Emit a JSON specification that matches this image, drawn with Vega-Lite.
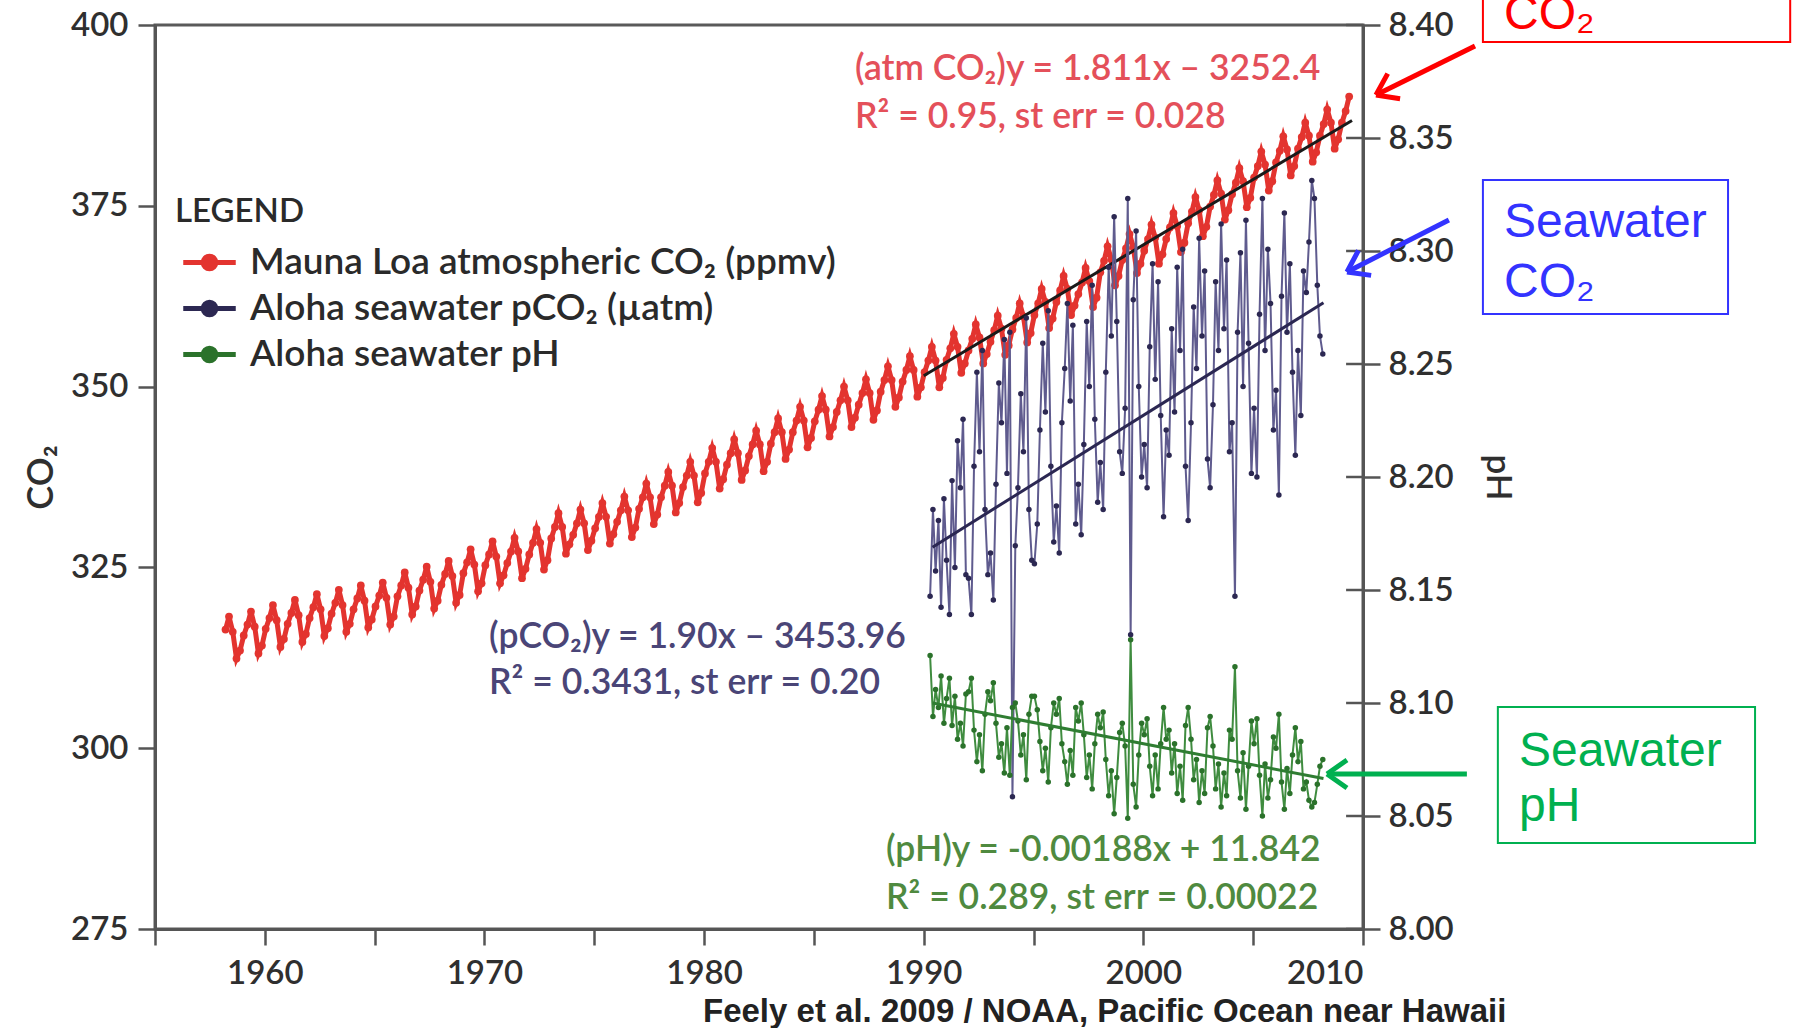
{
"$schema":"https://vega.github.io/schema/vega-lite/v6.json",
"width":1208,"height":904,"autosize":"none",
"padding":{"left":155,"top":25,"right":430,"bottom":99},
"background":"white",
"config":{"view":{"stroke":"#5a5a5a","strokeWidth":3},"font":"Lato"},
"datasets":{
"mlo":[
{"t":1958.21,"c":316.4},{"t":1958.37,"c":318.2},{"t":1958.54,"c":316.1},{"t":1958.71,"c":312.4},{"t":1958.87,"c":313.5},
{"t":1959.04,"c":315.6},{"t":1959.21,"c":317.1},{"t":1959.37,"c":318.9},{"t":1959.54,"c":316.8},{"t":1959.71,"c":313.1},{"t":1959.87,"c":314.2},
{"t":1960.04,"c":316.5},{"t":1960.21,"c":318.0},{"t":1960.37,"c":319.8},{"t":1960.54,"c":317.7},{"t":1960.71,"c":314.0},{"t":1960.87,"c":315.1},
{"t":1961.04,"c":317.2},{"t":1961.21,"c":318.7},{"t":1961.37,"c":320.5},{"t":1961.54,"c":318.4},{"t":1961.71,"c":314.7},{"t":1961.87,"c":315.8},
{"t":1962.04,"c":318.0},{"t":1962.21,"c":319.5},{"t":1962.37,"c":321.3},{"t":1962.54,"c":319.2},{"t":1962.71,"c":315.5},{"t":1962.87,"c":316.6},
{"t":1963.04,"c":318.6},{"t":1963.21,"c":320.1},{"t":1963.37,"c":321.9},{"t":1963.54,"c":319.8},{"t":1963.71,"c":316.1},{"t":1963.87,"c":317.2},
{"t":1964.04,"c":319.2},{"t":1964.21,"c":320.7},{"t":1964.37,"c":322.5},{"t":1964.54,"c":320.4},{"t":1964.71,"c":316.7},{"t":1964.87,"c":317.8},
{"t":1965.04,"c":319.6},{"t":1965.21,"c":321.1},{"t":1965.37,"c":322.9},{"t":1965.54,"c":320.8},{"t":1965.71,"c":317.1},{"t":1965.87,"c":318.2},
{"t":1966.04,"c":321.0},{"t":1966.21,"c":322.5},{"t":1966.37,"c":324.3},{"t":1966.54,"c":322.2},{"t":1966.71,"c":318.5},{"t":1966.87,"c":319.6},
{"t":1967.04,"c":321.8},{"t":1967.21,"c":323.3},{"t":1967.37,"c":325.1},{"t":1967.54,"c":323.0},{"t":1967.71,"c":319.3},{"t":1967.87,"c":320.4},
{"t":1968.04,"c":322.6},{"t":1968.21,"c":324.1},{"t":1968.37,"c":325.9},{"t":1968.54,"c":323.8},{"t":1968.71,"c":320.1},{"t":1968.87,"c":321.2},
{"t":1969.04,"c":324.2},{"t":1969.21,"c":325.7},{"t":1969.37,"c":327.5},{"t":1969.54,"c":325.4},{"t":1969.71,"c":321.7},{"t":1969.87,"c":322.8},
{"t":1970.04,"c":325.3},{"t":1970.21,"c":326.8},{"t":1970.37,"c":328.6},{"t":1970.54,"c":326.5},{"t":1970.71,"c":322.8},{"t":1970.87,"c":323.9},
{"t":1971.04,"c":325.6},{"t":1971.21,"c":327.2},{"t":1971.37,"c":329.1},{"t":1971.54,"c":327.2},{"t":1971.71,"c":323.5},{"t":1971.87,"c":324.8},
{"t":1972.04,"c":326.8},{"t":1972.21,"c":328.4},{"t":1972.37,"c":330.3},{"t":1972.54,"c":328.4},{"t":1972.71,"c":324.7},{"t":1972.87,"c":326.0},
{"t":1973.04,"c":329.0},{"t":1973.21,"c":330.6},{"t":1973.37,"c":332.5},{"t":1973.54,"c":330.6},{"t":1973.71,"c":326.9},{"t":1973.87,"c":328.2},
{"t":1974.04,"c":329.5},{"t":1974.21,"c":331.1},{"t":1974.37,"c":333.0},{"t":1974.54,"c":331.1},{"t":1974.71,"c":327.4},{"t":1974.87,"c":328.7},
{"t":1975.04,"c":330.4},{"t":1975.21,"c":332.0},{"t":1975.37,"c":333.9},{"t":1975.54,"c":332.0},{"t":1975.71,"c":328.3},{"t":1975.87,"c":329.6},
{"t":1976.04,"c":331.3},{"t":1976.21,"c":332.9},{"t":1976.37,"c":334.8},{"t":1976.54,"c":332.9},{"t":1976.71,"c":329.2},{"t":1976.87,"c":330.5},
{"t":1977.04,"c":333.1},{"t":1977.21,"c":334.7},{"t":1977.37,"c":336.6},{"t":1977.54,"c":334.7},{"t":1977.71,"c":331.0},{"t":1977.87,"c":332.3},
{"t":1978.04,"c":334.7},{"t":1978.21,"c":336.3},{"t":1978.37,"c":338.2},{"t":1978.54,"c":336.3},{"t":1978.71,"c":332.6},{"t":1978.87,"c":333.9},
{"t":1979.04,"c":336.1},{"t":1979.21,"c":337.7},{"t":1979.37,"c":339.6},{"t":1979.54,"c":337.7},{"t":1979.71,"c":334.0},{"t":1979.87,"c":335.3},
{"t":1980.04,"c":338.0},{"t":1980.21,"c":339.6},{"t":1980.37,"c":341.5},{"t":1980.54,"c":339.6},{"t":1980.71,"c":335.9},{"t":1980.87,"c":337.2},
{"t":1981.04,"c":339.2},{"t":1981.21,"c":340.8},{"t":1981.37,"c":342.7},{"t":1981.54,"c":340.8},{"t":1981.71,"c":337.1},{"t":1981.87,"c":338.4},
{"t":1982.04,"c":340.4},{"t":1982.21,"c":342.0},{"t":1982.37,"c":343.9},{"t":1982.54,"c":342.0},{"t":1982.71,"c":338.3},{"t":1982.87,"c":339.6},
{"t":1983.04,"c":342.1},{"t":1983.21,"c":343.7},{"t":1983.37,"c":345.6},{"t":1983.54,"c":343.7},{"t":1983.71,"c":340.0},{"t":1983.87,"c":341.3},
{"t":1984.04,"c":343.7},{"t":1984.21,"c":345.3},{"t":1984.37,"c":347.2},{"t":1984.54,"c":345.3},{"t":1984.71,"c":341.6},{"t":1984.87,"c":342.9},
{"t":1985.04,"c":345.2},{"t":1985.21,"c":346.8},{"t":1985.37,"c":348.7},{"t":1985.54,"c":346.8},{"t":1985.71,"c":343.1},{"t":1985.87,"c":344.4},
{"t":1986.04,"c":346.5},{"t":1986.21,"c":348.1},{"t":1986.37,"c":350.0},{"t":1986.54,"c":348.1},{"t":1986.71,"c":344.4},{"t":1986.87,"c":345.7},
{"t":1987.04,"c":347.5},{"t":1987.21,"c":349.1},{"t":1987.37,"c":351.0},{"t":1987.54,"c":349.1},{"t":1987.71,"c":345.4},{"t":1987.87,"c":346.7},
{"t":1988.04,"c":349.3},{"t":1988.21,"c":350.9},{"t":1988.37,"c":352.8},{"t":1988.54,"c":350.9},{"t":1988.71,"c":347.2},{"t":1988.87,"c":348.5},
{"t":1989.04,"c":350.7},{"t":1989.21,"c":352.3},{"t":1989.37,"c":354.2},{"t":1989.54,"c":352.3},{"t":1989.71,"c":348.6},{"t":1989.87,"c":349.9},
{"t":1990.04,"c":352.0},{"t":1990.21,"c":353.6},{"t":1990.37,"c":355.5},{"t":1990.54,"c":353.6},{"t":1990.71,"c":349.9},{"t":1990.87,"c":351.2},
{"t":1991.04,"c":353.7},{"t":1991.21,"c":355.3},{"t":1991.37,"c":357.3},{"t":1991.54,"c":355.5},{"t":1991.71,"c":351.9},{"t":1991.87,"c":353.2},
{"t":1992.04,"c":355.0},{"t":1992.21,"c":356.6},{"t":1992.37,"c":358.6},{"t":1992.54,"c":356.8},{"t":1992.71,"c":353.2},{"t":1992.87,"c":354.5},
{"t":1993.04,"c":356.2},{"t":1993.21,"c":357.8},{"t":1993.37,"c":359.8},{"t":1993.54,"c":358.0},{"t":1993.71,"c":354.4},{"t":1993.87,"c":355.7},
{"t":1994.04,"c":357.9},{"t":1994.21,"c":359.5},{"t":1994.37,"c":361.5},{"t":1994.54,"c":359.7},{"t":1994.71,"c":356.1},{"t":1994.87,"c":357.4},
{"t":1995.04,"c":359.9},{"t":1995.21,"c":361.5},{"t":1995.37,"c":363.5},{"t":1995.54,"c":361.7},{"t":1995.71,"c":358.1},{"t":1995.87,"c":359.4},
{"t":1996.04,"c":361.7},{"t":1996.21,"c":363.3},{"t":1996.37,"c":365.3},{"t":1996.54,"c":363.5},{"t":1996.71,"c":359.9},{"t":1996.87,"c":361.2},
{"t":1997.04,"c":362.8},{"t":1997.21,"c":364.4},{"t":1997.37,"c":366.4},{"t":1997.54,"c":364.6},{"t":1997.71,"c":361.0},{"t":1997.87,"c":362.3},
{"t":1998.04,"c":365.8},{"t":1998.21,"c":367.4},{"t":1998.37,"c":369.4},{"t":1998.54,"c":367.6},{"t":1998.71,"c":364.0},{"t":1998.87,"c":365.3},
{"t":1999.04,"c":367.5},{"t":1999.21,"c":369.1},{"t":1999.37,"c":371.1},{"t":1999.54,"c":369.3},{"t":1999.71,"c":365.7},{"t":1999.87,"c":367.0},
{"t":2000.04,"c":368.8},{"t":2000.21,"c":370.4},{"t":2000.37,"c":372.4},{"t":2000.54,"c":370.6},{"t":2000.71,"c":367.0},{"t":2000.87,"c":368.3},
{"t":2001.04,"c":370.4},{"t":2001.21,"c":372.0},{"t":2001.37,"c":374.0},{"t":2001.54,"c":372.2},{"t":2001.71,"c":368.6},{"t":2001.87,"c":369.9},
{"t":2002.04,"c":372.6},{"t":2002.21,"c":374.2},{"t":2002.37,"c":376.2},{"t":2002.54,"c":374.4},{"t":2002.71,"c":370.8},{"t":2002.87,"c":372.1},
{"t":2003.04,"c":374.9},{"t":2003.21,"c":376.5},{"t":2003.37,"c":378.5},{"t":2003.54,"c":376.7},{"t":2003.71,"c":373.1},{"t":2003.87,"c":374.4},
{"t":2004.04,"c":376.6},{"t":2004.21,"c":378.2},{"t":2004.37,"c":380.2},{"t":2004.54,"c":378.4},{"t":2004.71,"c":374.8},{"t":2004.87,"c":376.1},
{"t":2005.04,"c":378.9},{"t":2005.21,"c":380.5},{"t":2005.37,"c":382.5},{"t":2005.54,"c":380.7},{"t":2005.71,"c":377.1},{"t":2005.87,"c":378.4},
{"t":2006.04,"c":381.0},{"t":2006.21,"c":382.6},{"t":2006.37,"c":384.6},{"t":2006.54,"c":382.8},{"t":2006.71,"c":379.2},{"t":2006.87,"c":380.5},
{"t":2007.04,"c":382.9},{"t":2007.21,"c":384.5},{"t":2007.37,"c":386.5},{"t":2007.54,"c":384.7},{"t":2007.71,"c":381.1},{"t":2007.87,"c":382.4},
{"t":2008.04,"c":384.7},{"t":2008.21,"c":386.3},{"t":2008.37,"c":388.3},{"t":2008.54,"c":386.5},{"t":2008.71,"c":382.9},{"t":2008.87,"c":384.2},
{"t":2009.04,"c":386.5},{"t":2009.21,"c":388.1},{"t":2009.37,"c":390.1}
],
"hot":[
{"t":1990.29,"p":321.0,"h":8.121},{"t":1990.42,"p":333.0,"h":8.094},{"t":1990.54,"p":324.5,"h":8.106},{"t":1990.67,"p":331.5,"h":8.098},{"t":1990.79,"p":319.5,"h":8.112},{"t":1990.92,"p":334.5,"h":8.091},
{"t":1991.04,"p":326.0,"h":8.102},{"t":1991.17,"p":318.5,"h":8.111},{"t":1991.29,"p":337.0,"h":8.090},{"t":1991.42,"p":325.0,"h":8.103},{"t":1991.54,"p":342.5,"h":8.084},{"t":1991.67,"p":336.0,"h":8.091},{"t":1991.79,"p":345.5,"h":8.081},{"t":1991.92,"p":324.0,"h":8.104},
{"t":1992.04,"p":323.5,"h":8.105},{"t":1992.17,"p":318.5,"h":8.111},{"t":1992.29,"p":339.0,"h":8.088},{"t":1992.42,"p":352.0,"h":8.074},{"t":1992.54,"p":341.0,"h":8.086},{"t":1992.67,"p":355.0,"h":8.070},{"t":1992.79,"p":333.0,"h":8.095},{"t":1992.92,"p":324.0,"h":8.105},
{"t":1993.04,"p":327.0,"h":8.101},{"t":1993.17,"p":320.5,"h":8.109},{"t":1993.29,"p":336.5,"h":8.091},{"t":1993.42,"p":350.5,"h":8.076},{"t":1993.54,"p":345.0,"h":8.082},{"t":1993.67,"p":356.5,"h":8.069},{"t":1993.79,"p":338.0,"h":8.089},{"t":1993.92,"p":357.5,"h":8.068},
{"t":1994.04,"p":293.3,"h":8.098},{"t":1994.17,"p":328.0,"h":8.100},{"t":1994.29,"p":336.0,"h":8.092},{"t":1994.42,"p":349.0,"h":8.077},{"t":1994.54,"p":341.0,"h":8.086},{"t":1994.67,"p":359.5,"h":8.066},{"t":1994.79,"p":333.0,"h":8.095},{"t":1994.92,"p":326.0,"h":8.103},
{"t":1995.04,"p":325.5,"h":8.103},{"t":1995.17,"p":331.0,"h":8.097},{"t":1995.29,"p":344.0,"h":8.083},{"t":1995.42,"p":356.0,"h":8.070},{"t":1995.54,"p":346.5,"h":8.080},{"t":1995.67,"p":360.5,"h":8.065},{"t":1995.79,"p":339.0,"h":8.089},{"t":1995.92,"p":328.5,"h":8.100},
{"t":1996.04,"p":333.5,"h":8.095},{"t":1996.17,"p":327.0,"h":8.102},{"t":1996.29,"p":345.0,"h":8.082},{"t":1996.42,"p":352.5,"h":8.074},{"t":1996.54,"p":361.5,"h":8.064},{"t":1996.67,"p":348.0,"h":8.079},{"t":1996.79,"p":358.5,"h":8.068},{"t":1996.92,"p":331.0,"h":8.098},
{"t":1997.04,"p":336.5,"h":8.092},{"t":1997.17,"p":329.5,"h":8.100},{"t":1997.29,"p":342.0,"h":8.086},{"t":1997.42,"p":359.0,"h":8.067},{"t":1997.54,"p":350.0,"h":8.077},{"t":1997.67,"p":364.0,"h":8.062},{"t":1997.79,"p":345.5,"h":8.082},{"t":1997.92,"p":334.0,"h":8.095},
{"t":1998.04,"p":339.5,"h":8.089},{"t":1998.17,"p":333.0,"h":8.096},{"t":1998.29,"p":352.0,"h":8.075},{"t":1998.42,"p":366.5,"h":8.059},{"t":1998.54,"p":357.0,"h":8.070},{"t":1998.67,"p":373.5,"h":8.051},{"t":1998.79,"p":359.0,"h":8.067},{"t":1998.92,"p":341.0,"h":8.087},
{"t":1999.04,"p":338.0,"h":8.091},{"t":1999.17,"p":347.0,"h":8.081},{"t":1999.29,"p":376.0,"h":8.049},{"t":1999.42,"p":315.7,"h":8.128},{"t":1999.54,"p":362.0,"h":8.064},{"t":1999.67,"p":371.5,"h":8.054},{"t":1999.79,"p":350.0,"h":8.077},{"t":1999.92,"p":337.5,"h":8.091},
{"t":2000.04,"p":342.0,"h":8.086},{"t":2000.17,"p":336.0,"h":8.093},{"t":2000.29,"p":355.5,"h":8.072},{"t":2000.42,"p":367.0,"h":8.059},{"t":2000.54,"p":351.0,"h":8.077},{"t":2000.67,"p":364.5,"h":8.062},{"t":2000.79,"p":346.0,"h":8.082},{"t":2000.92,"p":332.0,"h":8.098},
{"t":2001.04,"p":344.0,"h":8.084},{"t":2001.17,"p":340.5,"h":8.088},{"t":2001.29,"p":358.0,"h":8.069},{"t":2001.42,"p":346.5,"h":8.082},{"t":2001.54,"p":366.5,"h":8.060},{"t":2001.67,"p":355.0,"h":8.072},{"t":2001.79,"p":369.0,"h":8.057},{"t":2001.92,"p":339.0,"h":8.090},
{"t":2002.04,"p":331.5,"h":8.098},{"t":2002.17,"p":345.0,"h":8.084},{"t":2002.29,"p":361.0,"h":8.066},{"t":2002.42,"p":352.5,"h":8.075},{"t":2002.54,"p":370.5,"h":8.056},{"t":2002.67,"p":357.0,"h":8.070},{"t":2002.79,"p":366.0,"h":8.060},{"t":2002.92,"p":340.0,"h":8.089},
{"t":2003.04,"p":336.0,"h":8.094},{"t":2003.17,"p":347.5,"h":8.081},{"t":2003.29,"p":364.5,"h":8.062},{"t":2003.42,"p":355.0,"h":8.073},{"t":2003.54,"p":372.5,"h":8.054},{"t":2003.67,"p":358.0,"h":8.069},{"t":2003.79,"p":367.5,"h":8.059},{"t":2003.92,"p":341.0,"h":8.088},
{"t":2004.04,"p":345.0,"h":8.084},{"t":2004.17,"p":321.0,"h":8.116},{"t":2004.29,"p":357.5,"h":8.070},{"t":2004.42,"p":368.5,"h":8.058},{"t":2004.54,"p":350.0,"h":8.078},{"t":2004.67,"p":373.0,"h":8.053},{"t":2004.79,"p":356.0,"h":8.072},{"t":2004.92,"p":338.0,"h":8.092},
{"t":2005.04,"p":347.0,"h":8.082},{"t":2005.17,"p":337.5,"h":8.093},{"t":2005.29,"p":360.0,"h":8.068},{"t":2005.42,"p":376.0,"h":8.050},{"t":2005.54,"p":355.0,"h":8.073},{"t":2005.67,"p":369.0,"h":8.058},{"t":2005.79,"p":361.5,"h":8.066},{"t":2005.92,"p":344.0,"h":8.085},
{"t":2006.04,"p":349.5,"h":8.080},{"t":2006.17,"p":335.0,"h":8.095},{"t":2006.29,"p":362.5,"h":8.065},{"t":2006.42,"p":374.0,"h":8.053},{"t":2006.54,"p":357.5,"h":8.071},{"t":2006.67,"p":367.0,"h":8.060},{"t":2006.79,"p":352.0,"h":8.077},{"t":2006.92,"p":340.5,"h":8.089},
{"t":2007.04,"p":355.0,"h":8.074},{"t":2007.17,"p":346.0,"h":8.083},{"t":2007.29,"p":366.0,"h":8.062},{"t":2007.42,"p":363.0,"h":8.065},{"t":2007.54,"p":370.0,"h":8.057},{"t":2007.67,"p":378.5,"h":8.054},{"t":2007.79,"p":376.0,"h":8.056},{"t":2007.92,"p":364.0,"h":8.064},
{"t":2008.04,"p":357.0,"h":8.072},{"t":2008.17,"p":354.5,"h":8.075}
],
"fa":[{"t":1990.0,"v":351.5},{"t":2009.5,"v":386.8}],
"fp":[{"t":1990.4,"v":327.8},{"t":2008.2,"v":361.6}],
"fh":[{"t":1990.4,"h":8.1},{"t":2008.2,"h":8.0666}],
"pht":[{"h":8.0},{"h":8.05},{"h":8.1},{"h":8.15},{"h":8.2},{"h":8.25},{"h":8.3},{"h":8.35},{"h":8.4}],
"series":[{"s":"Mauna Loa atmospheric CO₂ (ppmv)"},{"s":"Aloha seawater pCO₂ (µatm)"},{"s":"Aloha seawater pH"}],
"one":[{}]
},
"layer":[
{"data":{"name":"mlo"},
 "mark":{"type":"line","strokeWidth":5,"color":"#e3342f"},
 "encoding":{
  "x":{"field":"t","type":"quantitative","scale":{"domain":[1955,2010],"nice":false,"zero":false},
   "axis":{"title":null,"values":[1955,1960,1965,1970,1975,1980,1985,1990,1995,2000,2005,2010],"labelExpr":"datum.value % 10 == 0 ? '' + datum.value : ''","labelOverlap":false,"tickSize":16,"tickWidth":2.5,"tickColor":"#555555","domainColor":"#555555","domainWidth":3,"labelFont":"Lato","labelFontWeight":600,"labelFontSize":33,"labelColor":"#2f2f2f","labelPadding":12,"grid":false}},
  "y":{"field":"c","type":"quantitative","scale":{"domain":[275,400],"nice":false,"zero":false},
   "axis":{"orient":"left","title":"CO₂","values":[275,300,325,350,375,400],"labelOverlap":false,"tickSize":17,"tickWidth":2.5,"tickColor":"#555555","domainColor":"#555555","domainWidth":3,"labelFont":"Lato","labelFontWeight":600,"labelFontSize":33,"labelColor":"#2f2f2f","labelPadding":10,"titleFont":"Lato","titleFontSize":36,"titleFontWeight":600,"titleColor":"#2f2f2f","titlePadding":10,"grid":false}}
 }},
{"data":{"name":"mlo"},
 "mark":{"type":"point","filled":true,"size":60,"opacity":1,"color":"#e3342f"},
 "encoding":{"x":{"field":"t","type":"quantitative"},"y":{"field":"c","type":"quantitative","scale":{"domain":[275,400],"nice":false,"zero":false},"axis":null}}},
{"data":{"name":"series"},
 "mark":{"type":"line","strokeWidth":5},
 "encoding":{
  "x":{"datum":1955,"type":"quantitative"},
  "y":{"datum":275,"type":"quantitative","scale":{"domain":[275,400],"nice":false,"zero":false},"axis":null},
  "color":{"field":"s","type":"nominal",
   "scale":{"domain":["Mauna Loa atmospheric CO₂ (ppmv)","Aloha seawater pCO₂ (µatm)","Aloha seawater pH"],"range":["#e3342f","#2c2852","#2b722b"]},
   "legend":{"title":"LEGEND","orient":"none","legendX":20,"legendY":171,"symbolType":"M-1.25,0L1.25,0M-0.3,0A0.3,0.3,0,1,1,0.3,0A0.3,0.3,0,1,1,-0.3,0Z","symbolSize":1764,"symbolStrokeWidth":5,"symbolOffset":11,"labelOffset":17,"labelFont":"Lato","labelFontWeight":600,"labelFontSize":37,"labelColor":"#2a2a2a","labelLimit":1000,"titleFont":"Lato","titleFontSize":33,"titleFontWeight":600,"titleColor":"#2a2a2a","titlePadding":10,"rowPadding":4,"padding":0,
    "encode":{"symbols":{"update":{"fill":{"scale":"color","field":"value"},"stroke":{"scale":"color","field":"value"}}}}}}
 }},
{"data":{"name":"fa"},"mark":{"type":"line","color":"#1a1a1a","strokeWidth":3},
 "encoding":{"x":{"field":"t","type":"quantitative"},"y":{"field":"v","type":"quantitative","scale":{"domain":[275,400],"nice":false,"zero":false},"axis":null}}},
{"data":{"name":"hot"},
 "mark":{"type":"line","strokeWidth":2,"color":"#5f5b8e"},
 "encoding":{"x":{"field":"t","type":"quantitative"},"y":{"field":"p","type":"quantitative","scale":{"domain":[275,400],"nice":false,"zero":false},"axis":null}}},
{"data":{"name":"hot"},
 "mark":{"type":"point","filled":true,"size":30,"opacity":1,"color":"#2c2852"},
 "encoding":{"x":{"field":"t","type":"quantitative"},"y":{"field":"p","type":"quantitative","scale":{"domain":[275,400],"nice":false,"zero":false},"axis":null}}},
{"data":{"name":"fp"},"mark":{"type":"line","color":"#2b2752","strokeWidth":3},
 "encoding":{"x":{"field":"t","type":"quantitative"},"y":{"field":"v","type":"quantitative","scale":{"domain":[275,400],"nice":false,"zero":false},"axis":null}}},
{"data":{"name":"hot"},
 "mark":{"type":"line","strokeWidth":2,"color":"#3f8c3f"},
 "encoding":{"x":{"field":"t","type":"quantitative"},
  "y":{"field":"h","type":"quantitative","scale":{"domain":[8.0,8.4],"nice":false,"zero":false},
   "axis":{"orient":"right","title":"pH","values":[8.0,8.05,8.1,8.15,8.2,8.25,8.3,8.35,8.4],"format":".2f","labelOverlap":false,"tickSize":17,"tickWidth":2.5,"tickColor":"#555555","domainColor":"#555555","domainWidth":3,"labelFont":"Lato","labelFontWeight":600,"labelFontSize":33,"labelColor":"#2f2f2f","labelPadding":8,"titleFont":"Lato","titleFontSize":35,"titleFontWeight":600,"titleColor":"#2f2f2f","titlePadding":26,"grid":false}}}},
{"data":{"name":"hot"},
 "mark":{"type":"point","filled":true,"size":30,"opacity":1,"color":"#2b722b"},
 "encoding":{"x":{"field":"t","type":"quantitative"},"y":{"field":"h","type":"quantitative","scale":{"domain":[8.0,8.4],"nice":false,"zero":false},"axis":null}}},
{"data":{"name":"fh"},"mark":{"type":"line","color":"#2f7d32","strokeWidth":3},
 "encoding":{"x":{"field":"t","type":"quantitative"},"y":{"field":"h","type":"quantitative","scale":{"domain":[8.0,8.4],"nice":false,"zero":false},"axis":null}}},
{"data":{"name":"pht"},"mark":{"type":"rule","color":"#555555","strokeWidth":2.5},
 "encoding":{"x":{"datum":2009.23,"type":"quantitative"},"x2":{"datum":2010},"y":{"field":"h","type":"quantitative","scale":{"domain":[8.0,8.4],"nice":false,"zero":false},"axis":null}}},
{"data":{"name":"one"},"mark":{"type":"text","text":["(atm CO₂)y = 1.811x – 3252.4","R² = 0.95, st err = 0.028"],"align":"left","baseline":"alphabetic","font":"Lato","fontWeight":600,"fontSize":35.5,"lineHeight":48,"color":"#e4505a"},
 "encoding":{"x":{"datum":1986.87,"type":"quantitative"},"y":{"datum":392.4,"type":"quantitative","scale":{"domain":[275,400],"nice":false,"zero":false},"axis":null}}},
{"data":{"name":"one"},"mark":{"type":"text","text":["(pCO₂)y = 1.90x – 3453.96","R² = 0.3431, st err = 0.20"],"align":"left","baseline":"alphabetic","font":"Lato","fontWeight":600,"fontSize":35.5,"lineHeight":46,"color":"#4a4577"},
 "encoding":{"x":{"datum":1970.21,"type":"quantitative"},"y":{"datum":313.86,"type":"quantitative","scale":{"domain":[275,400],"nice":false,"zero":false},"axis":null}}},
{"data":{"name":"one"},"mark":{"type":"text","text":["(pH)y = -0.00188x + 11.842","R² = 0.289, st err = 0.00022"],"align":"left","baseline":"alphabetic","font":"Lato","fontWeight":600,"fontSize":35.5,"lineHeight":48,"color":"#4f8a3f"},
 "encoding":{"x":{"datum":1988.28,"type":"quantitative"},"y":{"datum":284.4,"type":"quantitative","scale":{"domain":[275,400],"nice":false,"zero":false},"axis":null}}},
{"data":{"name":"one"},"mark":{"type":"text","text":"Feely et al. 2009 / NOAA, Pacific Ocean near Hawaii","align":"left","baseline":"alphabetic","font":"Liberation Sans","fontWeight":"bold","fontSize":33,"color":"#222222"},
 "encoding":{"x":{"datum":1979.95,"type":"quantitative"},"y":{"datum":262.14,"type":"quantitative","scale":{"domain":[275,400],"nice":false,"zero":false},"axis":null}}},
{"data":{"name":"one"},"mark":{"type":"rect","fill":"transparent","stroke":"#ff0000","strokeWidth":2},
 "encoding":{"x":{"datum":2015.46,"type":"quantitative"},"x2":{"datum":2029.45},"y":{"datum":404.8,"type":"quantitative","scale":{"domain":[275,400],"nice":false,"zero":false},"axis":null},"y2":{"datum":397.65}}},
{"data":{"name":"one"},"mark":{"type":"text","text":"CO₂","align":"left","baseline":"alphabetic","font":"Liberation Sans","fontSize":48,"color":"#ff0000"},
 "encoding":{"x":{"datum":2016.42,"type":"quantitative"},"y":{"datum":399.45,"type":"quantitative","scale":{"domain":[275,400],"nice":false,"zero":false},"axis":null}}},
{"data":{"name":"one"},"mark":{"type":"rule","color":"#ff0000","strokeWidth":5},
 "encoding":{"x":{"datum":2015.1,"type":"quantitative"},"x2":{"datum":2010.59},"y":{"datum":397.1,"type":"quantitative","scale":{"domain":[275,400],"nice":false,"zero":false},"axis":null},"y2":{"datum":390.32}}},
{"data":{"name":"one"},"mark":{"type":"point","shape":"M0,0L-1,-0.7M0,0L-1,0.7","angle":153.7,"size":1600,"filled":false,"color":"#ff0000","strokeWidth":5,"opacity":1},
 "encoding":{"x":{"datum":2010.59,"type":"quantitative"},"y":{"datum":390.32,"type":"quantitative","scale":{"domain":[275,400],"nice":false,"zero":false},"axis":null}}},
{"data":{"name":"one"},"mark":{"type":"rect","fill":"transparent","stroke":"#3333ff","strokeWidth":2},
 "encoding":{"x":{"datum":2015.46,"type":"quantitative"},"x2":{"datum":2026.62},"y":{"datum":378.57,"type":"quantitative","scale":{"domain":[275,400],"nice":false,"zero":false},"axis":null},"y2":{"datum":360.04}}},
{"data":{"name":"one"},"mark":{"type":"text","text":["Seawater","CO₂"],"align":"left","baseline":"alphabetic","font":"Liberation Sans","fontSize":48,"lineHeight":60,"color":"#3333ff"},
 "encoding":{"x":{"datum":2016.42,"type":"quantitative"},"y":{"datum":370.69,"type":"quantitative","scale":{"domain":[275,400],"nice":false,"zero":false},"axis":null}}},
{"data":{"name":"one"},"mark":{"type":"rule","color":"#3333ff","strokeWidth":5},
 "encoding":{"x":{"datum":2013.91,"type":"quantitative"},"x2":{"datum":2009.27},"y":{"datum":373.04,"type":"quantitative","scale":{"domain":[275,400],"nice":false,"zero":false},"axis":null},"y2":{"datum":365.85}}},
{"data":{"name":"one"},"mark":{"type":"point","shape":"M0,0L-1,-0.7M0,0L-1,0.7","angle":153,"size":1600,"filled":false,"color":"#3333ff","strokeWidth":5,"opacity":1},
 "encoding":{"x":{"datum":2009.27,"type":"quantitative"},"y":{"datum":365.85,"type":"quantitative","scale":{"domain":[275,400],"nice":false,"zero":false},"axis":null}}},
{"data":{"name":"one"},"mark":{"type":"rect","fill":"transparent","stroke":"#00b050","strokeWidth":2},
 "encoding":{"x":{"datum":2016.14,"type":"quantitative"},"x2":{"datum":2027.85},"y":{"datum":305.7,"type":"quantitative","scale":{"domain":[275,400],"nice":false,"zero":false},"axis":null},"y2":{"datum":286.89}}},
{"data":{"name":"one"},"mark":{"type":"text","text":["Seawater","pH"],"align":"left","baseline":"alphabetic","font":"Liberation Sans","fontSize":48,"lineHeight":55,"color":"#00b050"},
 "encoding":{"x":{"datum":2017.1,"type":"quantitative"},"y":{"datum":297.55,"type":"quantitative","scale":{"domain":[275,400],"nice":false,"zero":false},"axis":null}}},
{"data":{"name":"one"},"mark":{"type":"rule","color":"#00b050","strokeWidth":5},
 "encoding":{"x":{"datum":2014.73,"type":"quantitative"},"x2":{"datum":2008.36},"y":{"datum":296.43,"type":"quantitative","scale":{"domain":[275,400],"nice":false,"zero":false},"axis":null},"y2":{"datum":296.43}}},
{"data":{"name":"one"},"mark":{"type":"point","shape":"M0,0L-1,-0.7M0,0L-1,0.7","angle":180,"size":1600,"filled":false,"color":"#00b050","strokeWidth":5,"opacity":1},
 "encoding":{"x":{"datum":2008.36,"type":"quantitative"},"y":{"datum":296.43,"type":"quantitative","scale":{"domain":[275,400],"nice":false,"zero":false},"axis":null}}}
],
"resolve":{"scale":{"y":"independent"}}
}
